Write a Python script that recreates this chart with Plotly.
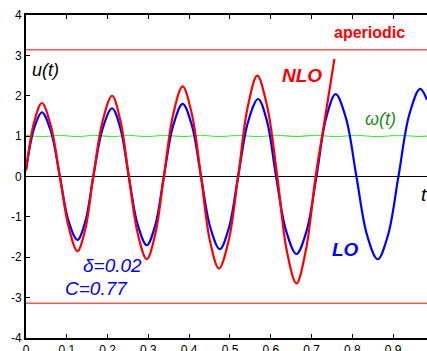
import plotly.graph_objects as go

# ---- data ----
t_lo = [0.0, 0.02, 0.039, 0.061, 0.083, 0.1045, 0.126, 0.1455, 0.165, 0.188, 0.211, 0.2315,
        0.252, 0.274, 0.296, 0.317, 0.338, 0.361, 0.384, 0.4065, 0.429, 0.452, 0.475, 0.4975,
        0.520, 0.5445, 0.569, 0.591, 0.613, 0.638, 0.663, 0.6875, 0.712, 0.7355, 0.759, 0.7845,
        0.810, 0.836, 0.862, 0.8875, 0.913, 0.9395, 0.966, 0.983]
u_lo = [0.15, 1.2, 1.59, 1.12, 0.0, -1.11, -1.57, -1.11, 0.0, 1.19, 1.69, 1.19,
        0.0, -1.2, -1.70, -1.2, 0.0, 1.27, 1.80, 1.27, 0.0, -1.27, -1.80, -1.27,
        0.0, 1.36, 1.92, 1.36, 0.0, -1.36, -1.92, -1.36, 0.0, 1.44, 2.04, 1.44,
        0.0, -1.45, -2.05, -1.45, 0.0, 1.53, 2.17, 1.9]

t_nlo = [0.0, 0.02, 0.039, 0.061, 0.083, 0.1045, 0.126, 0.1455, 0.165, 0.188, 0.211, 0.2315,
         0.252, 0.274, 0.296, 0.317, 0.338, 0.361, 0.384, 0.4065, 0.429, 0.451, 0.473, 0.4965,
         0.520, 0.5435, 0.567, 0.5915, 0.616, 0.6395, 0.663, 0.6865, 0.710, 0.733, 0.756]
u_nlo = [0.15, 1.35, 1.82, 1.25, 0.0, -1.25, -1.85, -1.3, 0.0, 1.38, 2.0, 1.38,
         0.0, -1.42, -2.05, -1.42, 0.0, 1.55, 2.23, 1.55, 0.0, -1.6, -2.28, -1.6,
         0.0, 1.72, 2.50, 1.72, 0.0, -1.85, -2.65, -1.8, 0.0, 1.45, 2.91]

t_w = [0.0, 0.039, 0.083, 0.126, 0.165, 0.211, 0.252, 0.296, 0.338, 0.384, 0.429, 0.475,
       0.520, 0.569, 0.613, 0.663, 0.712, 0.759, 0.810, 0.862, 0.913, 0.966, 0.983]
w_vals = [1.02, 0.99, 1.02, 0.99, 1.02, 0.99, 1.02, 0.99, 1.02, 0.99, 1.02, 0.99,
          1.02, 0.99, 1.02, 0.99, 1.02, 0.99, 1.02, 0.99, 1.02, 0.99, 1.0]

t_range = [0.0, 0.983]
pi_level = 3.14

x_tickvals = [0, 0.1, 0.2, 0.3, 0.4, 0.5, 0.6, 0.7, 0.8, 0.9]
x_ticktext = ["0", "0.1", "0.2", "0.3", "0.4", "0.5", "0.6", "0.7", "0.8", "0.9"]
y_tickvals = [-4, -3, -2, -1, 0, 1, 2, 3, 4]
y_ticktext = ["-4", "-3", "-2", "-1", "0", "1", "2", "3", "4"]

FONT = "Liberation Sans, Arial, sans-serif"

fig = go.Figure()
for lvl in (pi_level, -pi_level):
    fig.add_trace(go.Scatter(x=t_range, y=[lvl, lvl], mode="lines",
                             line=dict(color="#ff5555", width=1.4), hoverinfo="skip"))
fig.add_trace(go.Scatter(x=t_w, y=w_vals, mode="lines", line_shape="spline",
                         line=dict(color="#33ee33", width=1.1)))
fig.add_trace(go.Scatter(x=t_lo, y=u_lo, mode="lines", line_shape="spline",
                         line=dict(color="#0000ff", width=2.2)))
fig.add_trace(go.Scatter(x=t_nlo, y=u_nlo, mode="lines", line_shape="spline",
                         line=dict(color="#ff0000", width=2.2)))

ann = [
    dict(text="<i>u(t)</i>", x=0.047, y=2.64, font=dict(size=18, color="black")),
    dict(text="<b>aperiodic</b>", x=0.843, y=3.56, font=dict(size=16, color="#ff0000")),
    dict(text="<b><i>NLO</i></b>", x=0.677, y=2.49, font=dict(size=19, color="#ff0000")),
    dict(text="<i>ω(t)</i>", x=0.868, y=1.43, font=dict(size=18, color="#228b22")),
    dict(text="<i>t</i>", x=0.975, y=-0.45, font=dict(size=19, color="black")),
    dict(text="<b><i>LO</i></b>", x=0.784, y=-1.81, font=dict(size=19, color="#0000ff")),
    dict(text="<i>δ=0.02</i>", x=0.211, y=-2.21, font=dict(size=19, color="#0000ff")),
    dict(text="<i>C=0.77</i>", x=0.173, y=-2.77, font=dict(size=19, color="#0000ff")),
]
for a in ann:
    a.update(xref="x", yref="y", showarrow=False, xanchor="center", yanchor="middle")
    a["font"]["family"] = FONT

fig.update_layout(
    width=427, height=351,
    margin=dict(l=26, r=0, t=15, b=13, pad=0),
    paper_bgcolor="white", plot_bgcolor="white",
    showlegend=False,
    font=dict(family=FONT, size=12, color="black"),
    annotations=ann,
    xaxis=dict(range=t_range, showgrid=False, zeroline=False, showline=True,
               linecolor="black", linewidth=2, ticks="inside", ticklen=4,
               tickcolor="black", tickvals=x_tickvals, ticktext=x_ticktext,
               tickfont=dict(size=12), automargin=False),
    xaxis2=dict(range=t_range, overlaying="x", side="top", showgrid=False,
                zeroline=False, showline=True, linecolor="black", linewidth=1.5,
                ticks="inside", ticklen=4, tickcolor="black", tickvals=x_tickvals,
                showticklabels=False, automargin=False),
    yaxis=dict(range=[-4, 4], showgrid=False, zeroline=True, zerolinecolor="black",
               zerolinewidth=1, showline=True, linecolor="black", linewidth=2,
               ticks="inside", ticklen=4, tickcolor="black", tickvals=y_tickvals,
               ticktext=y_ticktext, tickfont=dict(size=12), automargin=False),
)
fig.add_trace(go.Scatter(x=t_range, y=[None, None], xaxis="x2", mode="lines",
                         hoverinfo="skip", showlegend=False))

fig.write_html("out.html")
